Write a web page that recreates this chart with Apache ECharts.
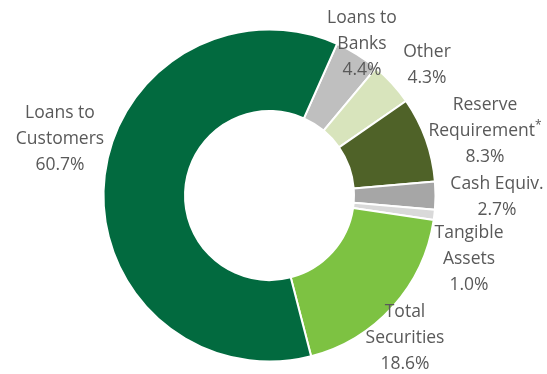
<!DOCTYPE html>
<html>
<head>
<meta charset="utf-8">
<script src="https://cdn.jsdelivr.net/npm/echarts@6/dist/echarts.min.js"></script>
<style>
  html, body { margin: 0; padding: 0; background: #ffffff; }
  #chart { width: 547px; height: 374px; }
</style>
</head>
<body>
<div id="chart"></div>
<script>
// Asset composition, clockwise from the first slice
const categories = [
  'Loans to\nBanks',
  'Other',
  'Reserve\nRequirement*',
  'Cash Equiv.',
  'Tangible\nAssets',
  'Total\nSecurities',
  'Loans to\nCustomers'
];
const shares = [4.4, 4.3, 8.3, 2.7, 1.0, 18.6, 60.7];
const sliceColors = ['#bfbfbf', '#d8e4bc', '#4f6228', '#a6a6a6', '#d9d9d9', '#7dc242', '#026a3f'];

// Where each label block is centred on the canvas
const labelAnchors = [
  [362, 44], [427, 65], [485, 131], [497, 197], [469, 259], [405, 338], [60, 139]
];

// Footnote marker is drawn as a small raised asterisk
function labelText(p) {
  const name = p.name.replace('*', '{sup|*}');
  return name + '\n' + p.value.toFixed(1) + '%';
}

const chart = echarts.init(document.getElementById('chart'), null, { renderer: 'canvas' });

chart.setOption({
  animation: false,
  series: [{
    type: 'pie',
    center: [269.5, 195.5],
    radius: [84.5, 166],
    startAngle: 66,
    clockwise: true,
    avoidLabelOverlap: false,
    itemStyle: { borderColor: '#ffffff', borderWidth: 2 },
    label: {
      show: true,
      position: 'outside',
      formatter: labelText,
      fontFamily: 'Open Sans',
      fontSize: 17.5,
      lineHeight: 26,
      color: '#595959',
      align: 'center',
      rich: {
        sup: {
          fontFamily: 'Open Sans',
          fontSize: 12,
          color: '#595959',
          lineHeight: 26,
          padding: [0, 0, 10, 0]
        }
      }
    },
    labelLine: { show: false },
    labelLayout: p => ({
      x: labelAnchors[p.dataIndex][0],
      y: labelAnchors[p.dataIndex][1],
      align: 'center',
      verticalAlign: 'middle'
    }),
    emphasis: { disabled: true },
    data: categories.map((name, i) => ({
      name: name,
      value: shares[i],
      itemStyle: { color: sliceColors[i] }
    }))
  }]
});
</script>
</body>
</html>
